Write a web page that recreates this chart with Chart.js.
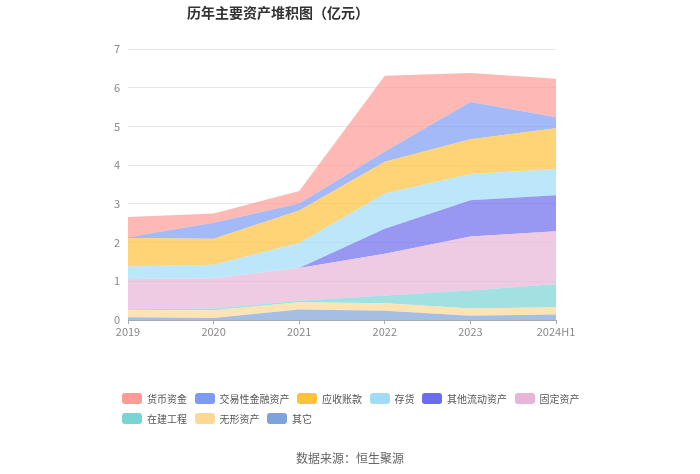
<!DOCTYPE html>
<html>
<head>
<meta charset="utf-8">
<script src="https://cdn.jsdelivr.net/npm/chart.js@4/dist/chart.umd.min.js"></script>
<style>
  html, body { margin: 0; padding: 0; background: #fff; }
  #wrap { position: relative; width: 700px; height: 474px; }
  #legend { position: absolute; left: 122px; top: 388px; width: 480px; font: 10px "Noto Sans CJK SC", sans-serif; color: #555; }
  .item { display: inline-flex; align-items: center; height: 20px; margin-right: 7.5px; vertical-align: top; }
  .box { width: 20px; height: 11px; border-radius: 3px; margin-right: 5px; }
  #source { position: absolute; left: 0; width: 700px; top: 449px; text-align: center; font: 12px "Noto Sans CJK SC", sans-serif; color: #666; }
</style>
</head>
<body>
<div id="wrap">
  <canvas id="chart" width="700" height="474"></canvas>
  <div id="legend"></div>
  <div id="source">数据来源：恒生聚源</div>
</div>
<script>
// 年份
const years = ['2019', '2020', '2021', '2022', '2023', '2024H1'];

// 各项资产（亿元）
const huobi = [0.52, 0.24, 0.32, 1.96, 0.75, 0.99];      // 货币资金
const jiaoyi = [0.02, 0.41, 0.18, 0.26, 0.96, 0.29];     // 交易性金融资产
const yingshou = [0.74, 0.67, 0.84, 0.82, 0.90, 1.05];   // 应收账款
const cunhuo = [0.32, 0.35, 0.65, 0.91, 0.68, 0.68];     // 存货
const qitaLiudong = [0, 0, 0, 0.65, 0.93, 0.93];         // 其他流动资产
const guding = [0.78, 0.78, 0.84, 1.08, 1.40, 1.36];     // 固定资产
const zaijian = [0.02, 0.05, 0.04, 0.20, 0.46, 0.60];    // 在建工程
const wuxing = [0.19, 0.20, 0.19, 0.19, 0.19, 0.19];     // 无形资产
const qita = [0.07, 0.05, 0.27, 0.24, 0.11, 0.14];       // 其它

const yTicks = [0, 1, 2, 3, 4, 5, 6, 7];

// 图例顺序（上到下）
const series = [
  { label: '货币资金', data: huobi, color: '255,155,150' },
  { label: '交易性金融资产', data: jiaoyi, color: '125,155,245' },
  { label: '应收账款', data: yingshou, color: '255,194,60' },
  { label: '存货', data: cunhuo, color: '160,220,248' },
  { label: '其他流动资产', data: qitaLiudong, color: '108,108,238' },
  { label: '固定资产', data: guding, color: '232,180,215' },
  { label: '在建工程', data: zaijian, color: '122,212,212' },
  { label: '无形资产', data: wuxing, color: '253,215,150' },
  { label: '其它', data: qita, color: '125,163,216' }
];

Chart.defaults.font.family = '"Noto Sans CJK SC", sans-serif';

// 堆积从底部开始：其它在最下面
const datasets = series.slice().reverse().map((s, i) => ({
  label: s.label,
  data: s.data,
  backgroundColor: 'rgba(' + s.color + ',0.7)',
  borderWidth: 0,
  pointRadius: 0,
  tension: 0,
  fill: i === 0 ? 'origin' : '-1'
}));

const config = {
  type: 'line',
  data: { labels: years, datasets: datasets },
  options: {
    responsive: false,
    animation: false,
    layout: { padding: { left: 0, right: 144, top: 0, bottom: 124 } },
    plugins: {
      legend: { display: false },
      tooltip: { enabled: false },
      title: {
        display: true,
        text: '历年主要资产堆积图（亿元）',
        color: '#333',
        font: { size: 14, weight: 'bold' },
        padding: { top: 4, bottom: 28.2 }
      }
    },
    scales: {
      x: {
        offset: false,
        grid: { drawOnChartArea: false, drawTicks: true, tickLength: 4, color: '#aaa' },
        border: { color: '#aaa' },
        ticks: { color: '#888', font: { size: 11 }, padding: 1, maxRotation: 0 },
        afterFit: (scale) => { scale.height = 30; }
      },
      y: {
        stacked: true,
        min: 0,
        max: 7,
        grid: { color: '#e8e8e8', drawTicks: false },
        border: { display: false },
        ticks: { color: '#888', font: { size: 11 }, padding: 8, stepSize: 1 },
        afterBuildTicks: (scale) => { scale.ticks = yTicks.map(v => ({ value: v })); },
        afterFit: (scale) => { scale.width = 128; }
      }
    }
  }
};

const ctx = document.getElementById('chart').getContext('2d');
const chart = new Chart(ctx, config);

// 图例
const legend = document.getElementById('legend');
series.forEach(s => {
  const item = document.createElement('span');
  item.className = 'item';
  const box = document.createElement('span');
  box.className = 'box';
  box.style.background = 'rgb(' + s.color + ')';
  item.appendChild(box);
  item.appendChild(document.createTextNode(s.label));
  legend.appendChild(item);
});
</script>
</body>
</html>
